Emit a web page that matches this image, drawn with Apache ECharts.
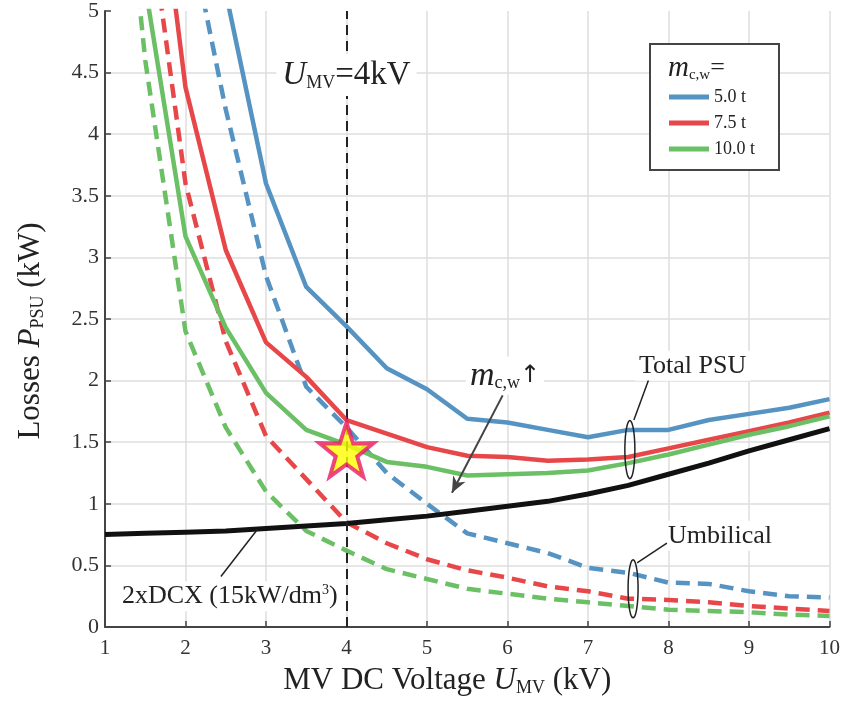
<!DOCTYPE html>
<html>
<head>
<meta charset="utf-8">
<script src="https://cdn.jsdelivr.net/npm/echarts@6/dist/echarts.min.js"></script>
<style>
  html, body { margin: 0; padding: 0; background: #fff; }
  #chart { width: 843px; height: 702px; }
</style>
</head>
<body>
<div id="chart"></div>
<script>
// MV DC voltage (kV)
const voltage = [1, 1.5, 2, 2.5, 3, 3.5, 4, 4.5, 5, 5.5, 6, 6.5, 7, 7.5, 8, 8.5, 9, 9.5, 10];

// total PSU losses (kW), solid
const total50 = [null, null, 7.5, 5.15, 3.6, 2.76, 2.44, 2.1, 1.93, 1.69, 1.66, 1.6, 1.54, 1.6, 1.6, 1.68, 1.73, 1.78, 1.85];
const total75 = [null, 7.0, 4.38, 3.06, 2.31, 2.03, 1.68, 1.57, 1.46, 1.39, 1.38, 1.35, 1.36, 1.38, 1.45, 1.52, 1.59, 1.66, 1.74];
const total100 = [null, 5.2, 3.17, 2.43, 1.9, 1.6, 1.48, 1.34, 1.3, 1.23, 1.24, 1.25, 1.27, 1.33, 1.4, 1.48, 1.56, 1.63, 1.71];

// umbilical losses (kW), dashed
const umb50 = [null, null, 5.8, 4.2, 2.85, 1.95, 1.62, 1.25, 1.0, 0.76, 0.68, 0.6, 0.48, 0.44, 0.36, 0.35, 0.29, 0.25, 0.24];
const umb75 = [null, 6.0, 3.6, 2.32, 1.55, 1.2, 0.85, 0.68, 0.55, 0.46, 0.4, 0.33, 0.29, 0.23, 0.22, 0.2, 0.17, 0.15, 0.13];
const umb100 = [7.8, 4.6, 2.4, 1.62, 1.1, 0.78, 0.62, 0.47, 0.39, 0.31, 0.27, 0.23, 0.2, 0.17, 0.14, 0.13, 0.12, 0.1, 0.09];

// 2xDCX losses (kW)
const dcx = [0.75, 0.76, 0.77, 0.78, 0.8, 0.82, 0.84, 0.87, 0.9, 0.94, 0.98, 1.02, 1.08, 1.15, 1.24, 1.33, 1.43, 1.52, 1.61];

const massNames = ['5.0 t', '7.5 t', '10.0 t'];
const designPoint = [[4, 1.44]];

const colors = ['#5593c3', '#e8474a', '#6bbf65'];
const serif = 'Liberation Serif';

function pairs(arr) {
  return voltage.map(function (v, i) { return [v, arr[i]]; });
}

function lineSeries(name, arr, color, dashed, width) {
  return {
    name: name,
    type: 'line',
    data: pairs(arr),
    symbol: 'none',
    clip: true,
    silent: true,
    lineStyle: { color: color, width: width || 4.5, type: dashed ? [14, 8] : 'solid' },
    itemStyle: { color: color }
  };
}

const chart = echarts.init(document.getElementById('chart'), null, { renderer: 'canvas' });

const star = 'path://M50,0 L61.8,35.1 L97.6,34.5 L69,56.7 L79.4,90.5 L50,70 L20.6,90.5 L31,56.7 L2.4,34.5 L38.2,35.1 Z';

function titleRich(size) {
  return {
    i: { fontFamily: serif, fontSize: size, fontStyle: 'italic', color: '#222' },
    s: { fontFamily: serif, fontSize: Math.round(size * 0.58), color: '#222', verticalAlign: 'bottom', padding: [15, 0, 0, 0] }
  };
}

const option = {
  animation: false,
  backgroundColor: '#fff',
  grid: { left: 105, right: 13, top: 11, bottom: 71 },
  legend: {
    data: massNames,
    orient: 'vertical',
    left: 664,
    top: 83,
    icon: 'rect',
    itemWidth: 40,
    itemHeight: 5,
    itemGap: 8,
    textStyle: { fontFamily: serif, fontSize: 18, color: '#222' },
    z: 20
  },
  xAxis: {
    type: 'value',
    min: 1, max: 10, interval: 1,
    name: 'MV DC Voltage {i|U}{s|MV} (kV)',
    nameLocation: 'middle',
    nameGap: 37,
    nameTextStyle: { fontFamily: serif, fontSize: 31, color: '#222', padding: [0, 40, 0, 0], rich: titleRich(31) },
    axisLine: { lineStyle: { color: '#444', width: 2 } },
    axisTick: { inside: true, length: 6, lineStyle: { color: '#444', width: 1.5 } },
    axisLabel: { fontFamily: serif, fontSize: 21, color: '#333', margin: 11 },
    splitLine: { show: true, lineStyle: { color: '#dedede', width: 1.5 } }
  },
  yAxis: {
    type: 'value',
    min: 0, max: 5, interval: 0.5,
    name: 'Losses {i|P}{s|PSU} (kW)',
    nameLocation: 'middle',
    nameGap: 58,
    nameTextStyle: { fontFamily: serif, fontSize: 31, color: '#222', padding: [0, 24, 0, 0], rich: titleRich(31) },
    axisLine: { show: true, lineStyle: { color: '#444', width: 2 } },
    axisTick: { show: true, inside: true, length: 6, lineStyle: { color: '#444', width: 1.5 } },
    axisLabel: { fontFamily: serif, fontSize: 22, color: '#333', margin: 6 },
    splitLine: { show: true, showMaxLine: false, lineStyle: { color: '#dedede', width: 1.5 } }
  },
  series: [
    lineSeries('5.0 t umbilical', umb50, colors[0], true),
    lineSeries('7.5 t umbilical', umb75, colors[1], true),
    lineSeries('10.0 t umbilical', umb100, colors[2], true),
    lineSeries('2xDCX', dcx, '#111', false, 5),
    lineSeries(massNames[0], total50, colors[0], false),
    lineSeries(massNames[1], total75, colors[1], false),
    {
      name: massNames[2],
      type: 'line',
      data: pairs(total100),
      symbol: 'none',
      clip: true,
      silent: true,
      lineStyle: { color: colors[2], width: 4.5 },
      itemStyle: { color: colors[2] },
      markLine: {
        silent: true,
        symbol: 'none',
        label: { show: false },
        lineStyle: { color: '#222', width: 2, type: [10, 6] },
        data: [{ xAxis: 4 }]
      }
    },
    {
      name: 'design point',
      type: 'scatter',
      data: designPoint,
      symbol: star,
      symbolSize: 54,
      silent: true,
      z: 10,
      itemStyle: { color: '#ffff00', borderColor: '#e8196a', borderWidth: 4 }
    }
  ]
};

chart.setOption(option);

function px(x, y) { return chart.convertToPixel({ gridIndex: 0 }, [x, y]); }

function ellipsePoints(cx, cy, rx, ry) {
  const pts = [];
  for (let k = 0; k <= 48; k++) {
    const t = k / 48 * Math.PI * 2;
    pts.push([cx + rx * Math.cos(t), cy + ry * Math.sin(t)]);
  }
  return pts;
}

function leader(a, b) {
  const p = px(a[0], a[1]), q = px(b[0], b[1]);
  return { type: 'line', z: 30, shape: { x1: p[0], y1: p[1], x2: q[0], y2: q[1] }, style: { stroke: '#222', lineWidth: 1.5 } };
}

const g = [];

// U_MV = 4kV label
const lab = px(4, 4.48);
g.push({
  type: 'text', z: 30, x: lab[0], y: lab[1],
  style: {
    text: '{i|U}{s|MV}{n|=4kV}', align: 'center', verticalAlign: 'middle',
    backgroundColor: '#fff', padding: [4, 6, 4, 6],
    rich: {
      i: { fontFamily: serif, fontSize: 33, fontStyle: 'italic', fill: '#222' },
      s: { fontFamily: serif, fontSize: 18, fill: '#222', verticalAlign: 'bottom', padding: [16, 0, 0, 0] },
      n: { fontFamily: serif, fontSize: 33, fill: '#222' }
    }
  }
});

// m_c,w arrow
const mPos = px(5.97, 2.04);
g.push({
  type: 'text', z: 30, x: mPos[0], y: mPos[1],
  style: {
    text: '{i|m}{s|c,w}{a|↑}', align: 'center', verticalAlign: 'middle',
    backgroundColor: '#fff', padding: [2, 4, 2, 4],
    rich: {
      i: { fontFamily: serif, fontSize: 34, fontStyle: 'italic', fill: '#222' },
      s: { fontFamily: serif, fontSize: 18, fill: '#222', verticalAlign: 'bottom', padding: [14, 0, 0, 0] },
      a: { fontFamily: 'DejaVu Sans', fontSize: 24, fill: '#222' }
    }
  }
});
const a0 = px(5.94, 1.88), a1 = px(5.31, 1.09);
g.push({ type: 'line', z: 30, shape: { x1: a0[0], y1: a0[1], x2: a1[0], y2: a1[1] }, style: { stroke: '#444', lineWidth: 2 } });
(function () {
  const dx = a1[0] - a0[0], dy = a1[1] - a0[1];
  const len = Math.sqrt(dx * dx + dy * dy);
  const ux = dx / len, uy = dy / len;
  const L = 16, W = 7;
  const bx = a1[0] - ux * L, by = a1[1] - uy * L;
  g.push({
    type: 'polygon', z: 31,
    shape: { points: [[a1[0], a1[1]], [bx - uy * W, by + ux * W], [a1[0] - ux * L * 0.7, a1[1] - uy * L * 0.7], [bx + uy * W, by - ux * W]] },
    style: { fill: '#444' }
  });
})();

// Total PSU
const tp = px(8.3, 2.12);
g.push({
  type: 'text', z: 30, x: tp[0], y: tp[1],
  style: { text: 'Total PSU', align: 'center', verticalAlign: 'middle', font: '26px "Liberation Serif"', fill: '#222', backgroundColor: '#fff', padding: [2, 4, 2, 4] }
});
g.push(leader([7.75, 2.0], [7.57, 1.68]));
const e1 = px(7.52, 1.44);
g.push({ type: 'polyline', z: 30, shape: { points: ellipsePoints(e1[0], e1[1], 5, 29) }, style: { stroke: '#222', lineWidth: 1.5, fill: null } });

// Umbilical
const um = px(8.64, 0.74);
g.push({
  type: 'text', z: 30, x: um[0], y: um[1],
  style: { text: 'Umbilical', align: 'center', verticalAlign: 'middle', font: '26px "Liberation Serif"', fill: '#222', backgroundColor: '#fff', padding: [2, 4, 2, 4] }
});
g.push(leader([7.98, 0.68], [7.61, 0.52]));
const e2 = px(7.56, 0.31);
g.push({ type: 'polyline', z: 30, shape: { points: ellipsePoints(e2[0], e2[1], 5, 29) }, style: { stroke: '#222', lineWidth: 1.5, fill: null } });

// 2xDCX
const dl = px(2.55, 0.25);
g.push({
  type: 'text', z: 30, x: dl[0], y: dl[1],
  style: {
    text: '2xDCX (15kW/dm{s|3})', align: 'center', verticalAlign: 'middle',
    font: '26px "Liberation Serif"', fill: '#222', backgroundColor: '#fff', padding: [2, 4, 2, 4],
    rich: { s: { fontFamily: serif, fontSize: 14, fill: '#222', verticalAlign: 'top', padding: [0, 0, 12, 0] } }
  }
});
g.push(leader([2.89, 0.79], [2.44, 0.41]));

// legend box and title
g.push({ type: 'rect', z: 15, shape: { x: 650, y: 44, width: 129, height: 126 }, style: { fill: '#fff', stroke: '#444', lineWidth: 2 } });
g.push({
  type: 'text', z: 25, x: 668, y: 68,
  style: {
    text: '{i|m}{s|c,w}{n|=}', verticalAlign: 'middle',
    rich: {
      i: { fontFamily: serif, fontSize: 29, fontStyle: 'italic', fill: '#222' },
      s: { fontFamily: serif, fontSize: 15, fill: '#222', verticalAlign: 'bottom', padding: [13, 0, 0, 0] },
      n: { fontFamily: serif, fontSize: 26, fill: '#222' }
    }
  }
});

chart.setOption({ graphic: g });
</script>
</body>
</html>
